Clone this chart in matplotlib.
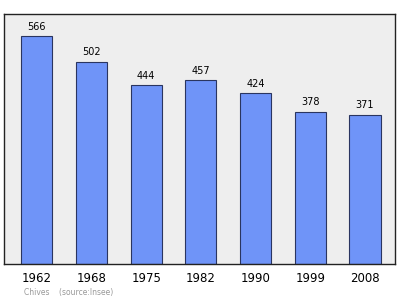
import numpy as np
import matplotlib.pyplot as plt

years = ['1962', '1968', '1975', '1982', '1990', '1999', '2008']
population = [566, 502, 444, 457, 424, 378, 371]

fig = plt.figure(figsize=(4.0, 2.99), dpi=100)
# axes box in pixels: left 4, right 395, top 13.5, bottom 263.7
ax = fig.add_axes([4/400, 1-263.7/299, 391/400, 250.2/299])
ax.set_facecolor('#eeeeee')

x = np.arange(len(years))
bars = ax.bar(x, population, width=0.57, color='#6f94f8',
              edgecolor='#2a3560', linewidth=0.8)
for xi, v in zip(x, population):
    ax.text(xi, v + 24, str(v), ha='center', va='center', fontsize=7)

ax.set_xlim(-0.6, 6.55)
ax.set_ylim(0, 623)
ax.set_xticks(x)
ax.set_xticklabels(years, fontsize=8.5)
ax.tick_params(axis='x', length=0, pad=6)
ax.set_yticks([])
for s in ax.spines.values():
    s.set_linewidth(1.0)
    s.set_color('#222222')

fig.text(24/400, 1-292/299, 'Chives    (source:Insee)', fontsize=5.5,
         color='#999999', va='center')

fig.savefig('out.png', dpi=100)
